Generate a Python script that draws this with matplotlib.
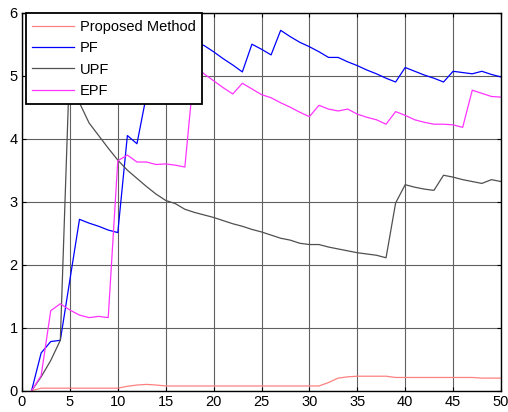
import matplotlib
matplotlib.use("Agg")
import matplotlib.pyplot as plt
import numpy as np

plt.rcParams['font.family'] = ['Liberation Sans', 'DejaVu Sans']

x = list(range(1, 51))

proposed = [0.0, 0.04, 0.04, 0.04, 0.04, 0.04, 0.04, 0.04, 0.04, 0.04,
            0.07, 0.09, 0.10, 0.09, 0.075, 0.075, 0.075, 0.075, 0.075, 0.075,
            0.075, 0.075, 0.075, 0.075, 0.075, 0.075, 0.075, 0.075, 0.075, 0.075,
            0.075, 0.13, 0.20, 0.22, 0.23, 0.23, 0.23, 0.23, 0.21, 0.21,
            0.21, 0.21, 0.21, 0.21, 0.21, 0.21, 0.21, 0.20, 0.20, 0.20]

pf = [0.0, 0.60, 0.78, 0.80, 1.76, 2.72, 2.66, 2.61, 2.55, 2.51,
      4.05, 3.92, 4.70, 5.20, 5.40, 5.60, 5.55, 5.52, 5.48, 5.38,
      5.27, 5.17, 5.06, 5.50, 5.42, 5.33, 5.72, 5.62, 5.53, 5.46,
      5.38, 5.29, 5.29, 5.22, 5.16, 5.09, 5.03, 4.96, 4.90, 5.13,
      5.07, 5.01, 4.96, 4.90, 5.07, 5.05, 5.03, 5.07, 5.02, 4.98]

upf = [0.0, 0.22, 0.48, 0.80, 5.30, 4.57, 4.25, 4.05, 3.85, 3.66,
       3.50, 3.37, 3.24, 3.12, 3.02, 2.97, 2.88, 2.83, 2.79, 2.75,
       2.70, 2.65, 2.61, 2.56, 2.52, 2.47, 2.42, 2.39, 2.34, 2.32,
       2.32, 2.28, 2.25, 2.22, 2.19, 2.17, 2.15, 2.11, 2.98, 3.27,
       3.23, 3.20, 3.18, 3.42, 3.39, 3.35, 3.32, 3.29, 3.35, 3.32]

epf = [0.0, 0.24, 1.27, 1.38, 1.28, 1.20, 1.16, 1.18, 1.16, 3.65,
       3.74, 3.63, 3.63, 3.59, 3.60, 3.58, 3.55, 5.15, 5.03, 4.92,
       4.81, 4.71, 4.88, 4.79, 4.70, 4.65, 4.57, 4.50, 4.42, 4.35,
       4.53, 4.47, 4.44, 4.47, 4.39, 4.34, 4.30, 4.23, 4.43, 4.37,
       4.30, 4.26, 4.23, 4.23, 4.22, 4.18, 4.77, 4.72, 4.67, 4.66]

labels = ['Proposed Method', 'PF', 'UPF', 'EPF']
colors = ['#ff8080', '#0000ff', '#505050', '#ff33ff']

fig = plt.figure(figsize=(5.08, 4.12), dpi=100)
ax = fig.add_axes([22/508, 1 - 390.7/412, (501 - 22)/508, (390.7 - 12.7)/412])

for series, lab, col in zip([proposed, pf, upf, epf], labels, colors):
    ax.plot(x, series, color=col, linewidth=0.9, label=lab)

ax.set_xlim(0, 50)
ax.set_ylim(0, 6)
ax.set_xticks(np.arange(0, 51, 5))
ax.set_yticks(np.arange(0, 7, 1))
ax.grid(True, color='#606060', linewidth=0.8, linestyle='-')
ax.set_axisbelow(True)
ax.tick_params(direction='in', top=True, right=True, length=3, labelsize=10.5, pad=3)
for s in ax.spines.values():
    s.set_linewidth(1.0)
    s.set_color('black')

leg = ax.legend(loc='upper left', bbox_to_anchor=(0.008, 0.998), borderaxespad=0,
                fancybox=False, framealpha=1, edgecolor='black', fontsize=10.5,
                handlelength=2.85, handletextpad=0.4, labelspacing=0.5,
                borderpad=0.45)
leg.get_frame().set_linewidth(1.3)
leg.set_zorder(10)

fig.savefig('out.png', dpi=100)
